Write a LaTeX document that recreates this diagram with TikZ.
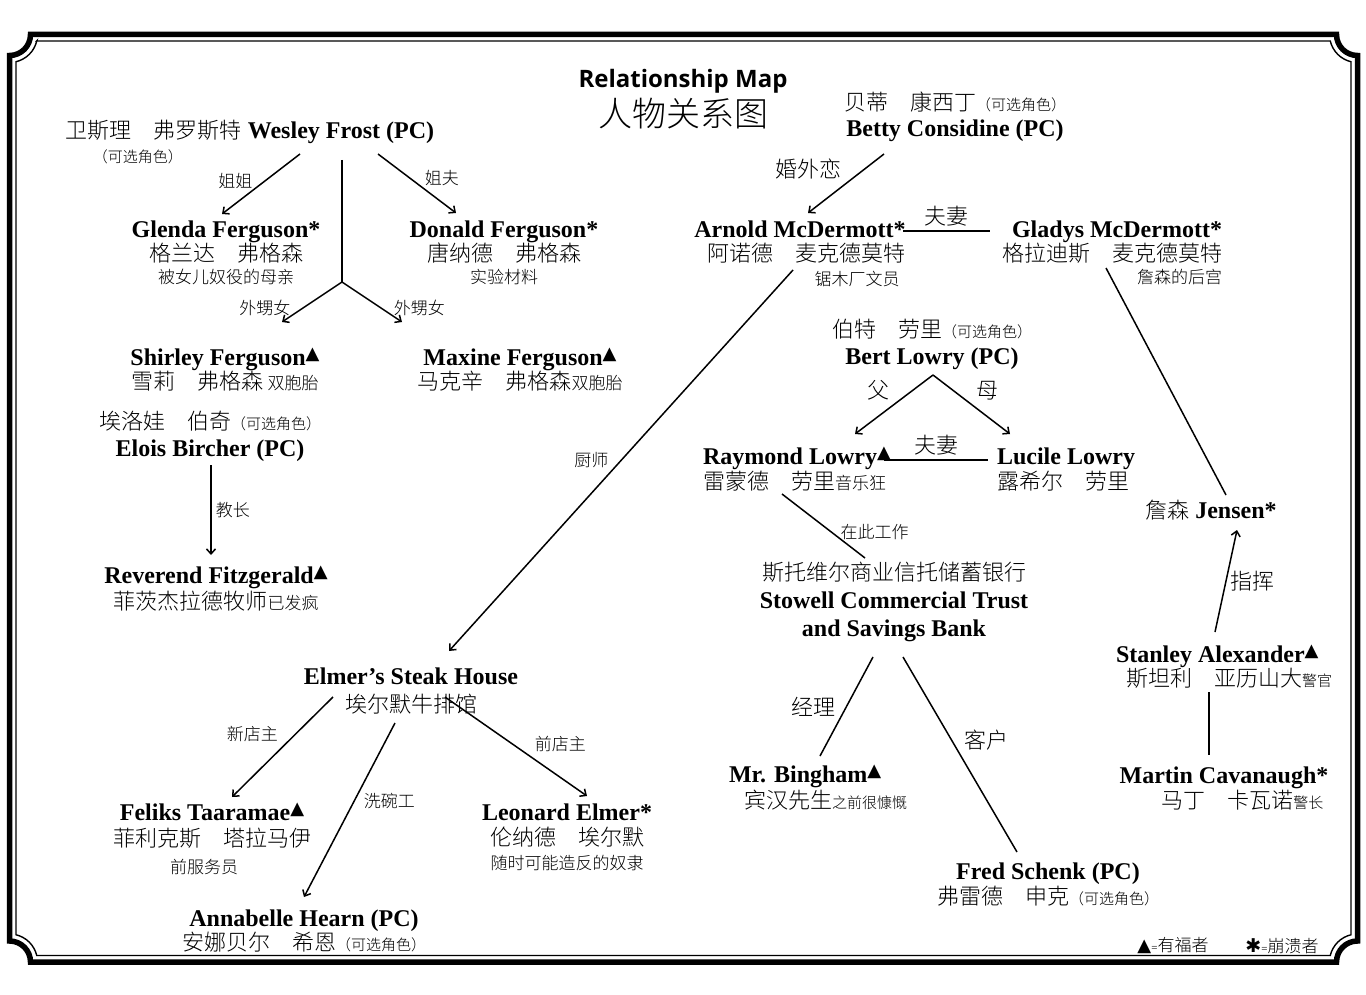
\documentclass[tikz,border=0pt]{standalone}
\usepackage{fontspec}
\setmainfont{Liberation Serif}
\newfontfamily\cjk{Noto Sans CJK SC}[UprightFont={* Light}]
\newfontfamily\symb{DejaVu Sans}
\newfontfamily\titlefont{Open Sans}
\usetikzlibrary{arrows.meta,calc}

\newcommand{\zh}[1]{{\cjk\mdseries\fontsize{22}{22}\selectfont #1}}
\newcommand{\rolenote}[1]{{\cjk\mdseries\fontsize{17}{17}\selectfont #1}}
\newcommand{\smallnote}[1]{{\cjk\mdseries\fontsize{15}{15}\selectfont #1}}
\newcommand{\optrole}{{\cjk\mdseries\fontsize{15}{15}\selectfont （可选角色）}}
\newcommand{\blessed}{\raisebox{6pt}{\symb\fontsize{18}{18}\selectfont ▲}}

\begin{document}
\begin{tikzpicture}[
		x=1pt, y=-1pt,
		person/.style={align=center, inner sep=2pt, font=\fontsize{24}{25}\selectfont},
		arrow/.style={line width=1.5pt, -{Straight Barb[length=5pt,width=9pt]}},
		link/.style={line width=1.5pt},
		rel/.style={font=\cjk\fontsize{17}{17}\selectfont, inner sep=4pt},
		relbig/.style={font=\cjk\fontsize{22}{22}\selectfont, inner sep=4pt}
		]
		
		% frame
		\fill[white] (0,0) rectangle (1366,995);
		\useasboundingbox (0,0) rectangle (1366,995);
		\draw[line width=5.5pt] (30.5,34.5) -- (1336.5,34.5) arc[start angle=180, end angle=90, radius=21]
			-- (1357.5,941) arc[start angle=270, end angle=180, radius=21]
			-- (30.5,962) arc[start angle=360, end angle=270, radius=21]
			-- (9.5,55.5) arc[start angle=90, end angle=0, radius=21] -- cycle;
		\draw[line width=1.4pt] (36.74,41) -- (1330.26,41) arc[start angle=166.6, end angle=103.4, radius=28]
			-- (1351,934.76) arc[start angle=256.6, end angle=193.4, radius=28]
			-- (36.74,955.5) arc[start angle=346.6, end angle=283.4, radius=28]
			-- (16,61.74) arc[start angle=76.6, end angle=13.4, radius=28] -- cycle;
		
		\node (title) at (683,99) [align=center, font=\fontsize{34}{36}\selectfont] {{\titlefont\bfseries\fontsize{24}{24}\selectfont Relationship Map}\\[3pt]{\cjk 人物关系图}};
		
		% Frost and Ferguson
		\node (wesley) at (250,142) [person, align=left] {\zh{卫斯理　弗罗斯特} \textbf{Wesley Frost (PC)}\\[-1pt]\hspace*{27pt}\optrole};
		\node (glenda) at (226,253) [person] {\textbf{Glenda Ferguson*}\\[-1pt]\zh{格兰达　弗格森}\\[-3pt]\rolenote{被女儿奴役的母亲}};
		\node (donald) at (504,253) [person] {\textbf{Donald Ferguson*}\\[-1pt]\zh{唐纳德　弗格森}\\[-3pt]\rolenote{实验材料}};
		\coordinate (fork) at (342,282);
		\node (shirley) at (225,370) [person] {\textbf{Shirley Ferguson}\blessed\\[-1pt]\zh{雪莉　弗格森}\,\rolenote{双胞胎}};
		\node (maxine) at (520,370) [person] {\textbf{Maxine Ferguson}\blessed\\[-1pt]\zh{马克辛　弗格森}\rolenote{双胞胎}};
		
		\draw [arrow] ($(wesley)+(50,12)$) -- ($(glenda)+(-4,-39)$) node[midway, left=4pt, yshift=3pt, rel] {姐姐};
		\draw [arrow] ($(wesley)+(128,12)$) -- ($(donald)+(-48,-40)$) node[midway, right=3pt, yshift=5pt, rel] {姐夫};
		\draw [link] ($(wesley)+(92,18)$) -- (fork);
		\draw [arrow] (fork) -- ($(shirley)+(57,-48)$) node[pos=0.65, left=8pt, rel] {外甥女};
		\draw [arrow] (fork) -- ($(maxine)+(-118,-48)$) node[pos=0.65, right=8pt, rel] {外甥女};
		
		% Bircher
		\node (elois) at (210,436) [person] {\zh{埃洛娃　伯奇}\optrole\\[2pt]\textbf{Elois Bircher (PC)}};
		\node (reverend) at (216,589) [person] {\textbf{Reverend Fitzgerald}\blessed\\[1pt]\zh{菲茨杰拉德牧师}\rolenote{已发疯}};
		\draw [arrow] ($(elois)+(1,29)$) -- ($(reverend)+(-5,-34)$) node[midway, right, rel] {教长};
		
		% McDermott
		\node (betty) at (955,117) [person] {\zh{贝蒂　康西丁}\optrole\\[1pt]\textbf{Betty Considine (PC)}};
		\node (arnold) at (800,254) [person, align=right] {\textbf{Arnold McDermott*}\\[-1pt]\zh{阿诺德　麦克德莫特}\\[-1pt]\rolenote{锯木厂文员}\hspace*{6pt}};
		\node (gladys) at (1112,253) [person, align=right] {\textbf{Gladys McDermott*}\\[-1pt]\zh{格拉迪斯　麦克德莫特}\\[-3pt]\rolenote{詹森的后宫}};
		\node (jensen) at (1211,510) [person] {\zh{詹森} \textbf{Jensen*}};
		\draw [arrow] ($(betty)+(-71,37)$) -- ($(arnold)+(8,-41)$) node[midway, above left, relbig] {婚外恋};
		\draw [link] ($(arnold)+(103,-23)$) -- ($(gladys)+(-122,-22)$) node[midway, above, relbig] {夫妻};
		\draw [link] ($(gladys)+(-6,15)$) -- ($(jensen)+(15,-15)$);
		
		% Lowry
		\node (bert) at (932,344) [person] {\zh{伯特　劳里}\optrole\\[2pt]\textbf{Bert Lowry (PC)}};
		\node (raymond) at (797,469) [person, align=left] {\textbf{Raymond Lowry}\blessed\\\zh{雷蒙德　劳里}\rolenote{音乐狂}};
		\node (lucile) at (1066,469) [person, align=left] {\textbf{Lucile Lowry}\\\zh{露希尔　劳里}};
		\draw [arrow] ($(bert)+(1,31)$) -- ($(raymond)+(58,-35)$) node[midway, above left, relbig] {父};
		\draw [arrow] ($(bert)+(1,31)$) -- ($(lucile)+(-56,-35)$) node[midway, above right, relbig] {母};
		\draw [link] ($(raymond)+(87,-9)$) -- ($(lucile)+(-78,-9)$) node[midway, above, relbig] {夫妻};
		
		% bank
		\node (bank) at (894,602) [person] {\zh{斯托维尔商业信托储蓄银行}\\[3pt]\textbf{Stowell Commercial Trust}\\[3pt]\textbf{and Savings Bank}};
		\node (bingham) at (818,788) [person, align=left] {\textbf{Mr. Bingham}\blessed\\[1pt]\hspace*{15pt}\zh{宾汉先生}\smallnote{之前很慷慨}};
		\node (fred) at (1048,885) [person] {\textbf{Fred Schenk (PC)}\\\zh{弗雷德　申克}\optrole};
		\draw [link] ($(raymond)+(-15,25)$) -- ($(bank)+(-29,-44)$) node[pos=0.6, right=4pt, rel] {在此工作};
		\draw [link] ($(bank)+(-21,55)$) -- ($(bingham)+(2,-32)$) node[midway, left=6pt, relbig] {经理};
		\draw [link] ($(bank)+(9,55)$) -- ($(fred)+(-31,-33)$) node[midway, above right, relbig] {客户};
		
		% police
		\node (stanley) at (1224,667) [person, align=left] {\textbf{Stanley Alexander}\blessed\\[-1pt]\hspace*{10pt}\zh{斯坦利　亚历山大}\smallnote{警官}};
		\node (martin) at (1224,788) [person, align=right] {\textbf{Martin Cavanaugh*}\\\zh{马丁　卡瓦诺}\smallnote{警长}\hspace*{5pt}};
		\draw [arrow] ($(stanley)+(-9,-35)$) -- ($(jensen)+(26,20)$) node[midway, right, relbig] {指挥};
		\draw [link] ($(stanley)+(-15,25)$) -- ($(martin)+(-15,-33)$);
		
		% steak house
		\node (elmer) at (411,691) [person] {\textbf{Elmer's Steak House}\\[3pt]\zh{埃尔默牛排馆}};
		\node (feliks) at (212,839) [person] {\textbf{Feliks Taaramae}\blessed\\[1pt]\zh{菲利克斯　塔拉马伊}\\[2pt]\rolenote{前服务员}\hspace*{16pt}};
		\node (leonard) at (567,837) [person] {\textbf{Leonard Elmer*}\\\zh{伦纳德　埃尔默}\\[-1pt]\rolenote{随时可能造反的奴隶}};
		\node (annabelle) at (304,931) [person] {\textbf{Annabelle Hearn (PC)}\\[-1pt]\zh{安娜贝尔　希恩}\optrole};
		\draw [arrow] ($(arnold)+(-7,16)$) -- ($(elmer)+(38,-40)$) node[midway, left=8pt, rel] {厨师};
		\draw [arrow] ($(elmer)+(-78,6)$) -- ($(feliks)+(20,-42)$) node[midway, above left, rel] {新店主};
		\draw [arrow] ($(elmer)+(-16,32)$) -- ($(annabelle)+(0,-34)$) node[pos=0.45, right=5pt, rel] {洗碗工};
		\draw [arrow] ($(elmer)+(34,6)$) -- ($(leonard)+(20,-41)$) node[pos=0.6, above right, rel] {前店主};
		
		% legend
		\node (legbless) at (1173,946) [inner sep=0pt] {{\symb\fontsize{18}{18}\selectfont ▲}{\fontsize{11}{11}\selectfont =}\rolenote{有福者}};
		\node (legbreak) at (1282,946) [inner sep=0pt] {{\symb\bfseries\fontsize{19}{19}\selectfont ✱}{\fontsize{11}{11}\selectfont =}\rolenote{崩溃者}};
	\end{tikzpicture}
\end{document}
